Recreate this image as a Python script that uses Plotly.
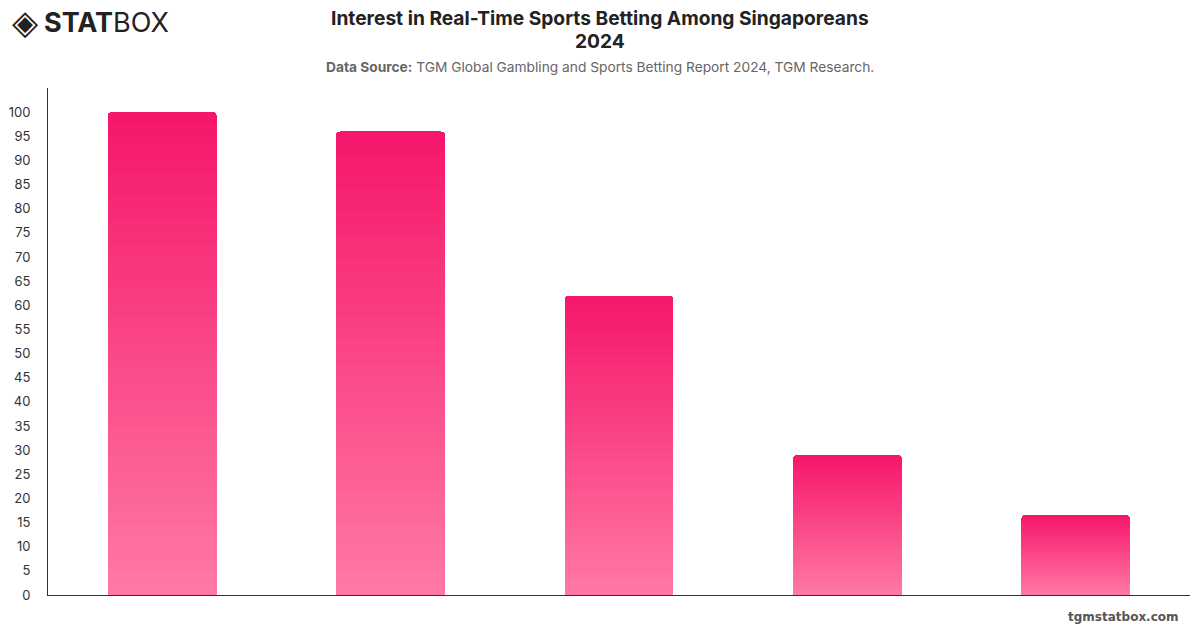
import plotly.graph_objects as go

categories = ["Category A", "Category B", "Category C", "Category D", "Category E"]
values = [100, 96, 62, 29, 16.6]
y_ticks = list(range(0, 105, 5))

TOP = (245, 22, 106)
BOTTOM = (255, 121, 166)
N = 40

def mix(t):
    return "rgb({},{},{})".format(*[round(BOTTOM[k] + (TOP[k] - BOTTOM[k]) * t) for k in range(3)])

fig = go.Figure()
for i in range(N):
    t = (i + 0.5) / N
    fig.add_trace(go.Bar(
        x=categories,
        y=[v / N for v in values],
        marker=dict(color=mix(t), line=dict(width=0), cornerradius=4),
        hoverinfo="skip",
        showlegend=False,
    ))

fig.update_layout(
    barmode="stack",
    bargap=0.523,
    width=1200, height=628,
    margin=dict(l=48, r=10, t=88, b=33),
    paper_bgcolor="white", plot_bgcolor="white",
    font=dict(family="Inter, Roboto, sans-serif", color="#333"),
    xaxis=dict(showticklabels=False, showgrid=False, zeroline=False,
               showline=True, linecolor="#333", linewidth=1, ticks=""),
    yaxis=dict(range=[0, 105], tickvals=y_ticks, showgrid=False, zeroline=False,
               showline=True, linecolor="#333", linewidth=1, ticks="",
               ticklabelstandoff=14, tickfont=dict(size=13, color="#333")),
)

def px_annot(text, x, y, size, color, xanchor="center", family=None):
    f = dict(size=size, color=color)
    if family:
        f["family"] = family
    fig.add_annotation(text=text, xref="paper", yref="paper",
                       x=(x - 48) / 1142, y=(595 - y) / 507,
                       xanchor=xanchor, yanchor="middle", showarrow=False, font=f)

px_annot("<b>Interest in Real-Time Sports Betting Among Singaporeans</b>", 600, 18, 19.2, "#222")
px_annot("<b>2024</b>", 600, 41, 19.2, "#222")
px_annot("<b>Data Source:</b> TGM Global Gambling and Sports Betting Report 2024, TGM Research.",
         600, 67, 13.75, "#666")
px_annot("<b>tgmstatbox.com</b>", 1181, 617, 12, "#555", xanchor="right",
         family="Verdana, DejaVu Sans, sans-serif")
px_annot("<b>STAT</b>BOX", 42, 22, 27, "#222", xanchor="left", family="Inter, sans-serif")
px_annot("◈", 10, 22, 34, "#222", xanchor="left", family="DejaVu Sans")

fig.write_html("out.html")
